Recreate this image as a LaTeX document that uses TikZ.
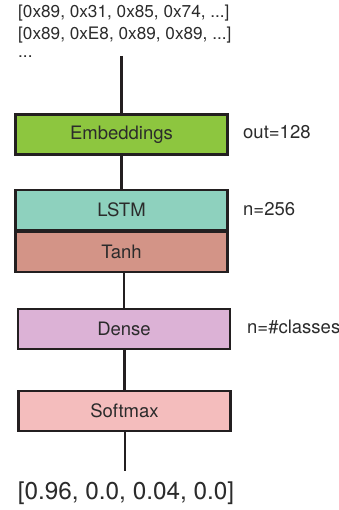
\documentclass[tikz,border=0pt]{standalone}
\usepackage{fontspec}
\setmainfont{TeX Gyre Heros}
\definecolor{edge}{HTML}{231F20}
\definecolor{txt}{HTML}{2B2B2B}
\definecolor{cemb}{HTML}{8DC63F}
\definecolor{clstm}{HTML}{8ED1BE}
\definecolor{ctanh}{HTML}{D39487}
\definecolor{cdense}{HTML}{DCB2D6}
\definecolor{csoft}{HTML}{F4BDBD}
\tikzset{
  layer/.style={draw=edge, line width=2.8pt, minimum width=212pt, minimum height=40pt, inner sep=0pt, text=txt, font=\fontsize{18.5}{21}\selectfont},
  side/.style={anchor=west, text=txt, inner sep=0pt, font=\fontsize{18.5}{21}\selectfont},
  toptxt/.style={anchor=west, text=txt, inner sep=0pt, font=\fontsize{17.2}{20}\selectfont},
  conn/.style={draw=edge, line width=2.8pt}
}
\begin{document}
\begin{tikzpicture}[x=1pt,y=-1pt]
\useasboundingbox (0,0) rectangle (339,510);
\node[toptxt] (in1) at (18,13) {[0x89, 0x31, 0x85, 0x74, ...]};
\node[toptxt] (in2) at (18,35) {[0x89, 0xE8, 0x89, 0x89, ...]};
\node[toptxt] (in3) at (18,57) {...};
\coordinate (start) at (121.5,56);
\node[layer, fill=cemb] (emb) at (121.5,134.5) {Embeddings};
\node[layer, fill=clstm] (lstm) at (121.5,210) {LSTM};
\node[layer, fill=ctanh] (tanh) at (121.5,252) {Tanh};
\node[layer, fill=cdense] (dense) at (124,329) {Dense};
\node[layer, fill=csoft] (soft) at (124.5,411) {Softmax};
\coordinate (end) at (125,471);
\node[text=txt, inner sep=0pt, font=\fontsize{24.3}{27}\selectfont] (out) at (126,493) {[0.96, 0.0, 0.04, 0.0]};
\node[side] (l1) at (243,132) {out=128};
\node[side] (l2) at (243,209) {n=256};
\node[side] (l3) at (247,327) {n=\#classes};
\draw[conn] (start) -- (emb.north);
\draw[conn] (emb.south) -- (lstm.north);
\draw[conn] (dense.north |- tanh.south) -- (dense.north);
\draw[conn] (dense.south -| soft.north) -- (soft.north);
\draw[conn] (soft.south -| end) -- (end);
\end{tikzpicture}
\end{document}
